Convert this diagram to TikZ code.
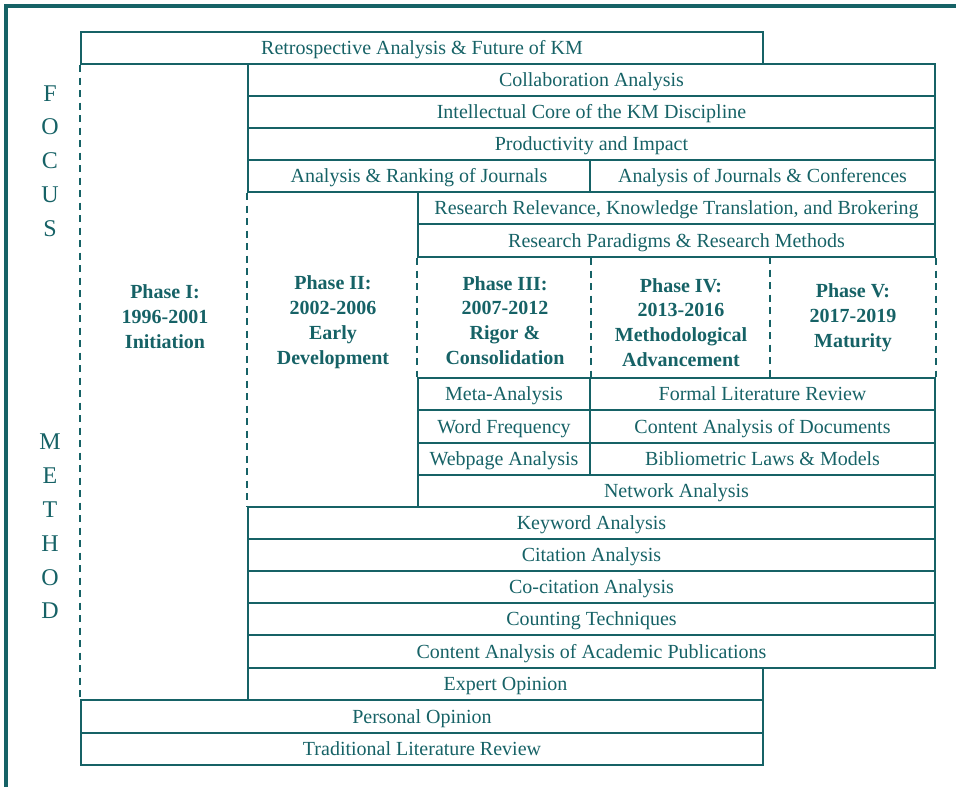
\documentclass[tikz,border=0pt]{standalone}
\usepackage{fontspec}
\setmainfont{Liberation Serif}
\definecolor{km}{RGB}{22,98,102}
\tikzset{
  cell/.style={draw=km, line width=2.2pt, inner sep=0pt, text=km,
    font=\fontsize{20}{24}\selectfont, text height=14.5pt, text depth=1pt},
  phase/.style={text=km, align=center, inner sep=0pt,
    font=\fontsize{20}{24.8}\selectfont\bfseries},
  axis/.style={text=km, align=center, inner sep=0pt,
    font=\fontsize{24}{33.8}\selectfont},
  divider/.style={draw=km, line width=2.2pt, dash pattern=on 7pt off 5.5pt},
  frame/.style={draw=km, line width=3.6pt}
}
\newcommand\cellnode[6]{%
  \node[cell, minimum width={(#4-#2)*1pt}, minimum height={(#5-#3)*1pt}]
    (#1) at ({(#2+#4)/2},{(#3+#5)/2}) {#6};}
\begin{document}
\begin{tikzpicture}[x=1pt,y=-1pt]
\useasboundingbox (0,0) rectangle (956,787);
% outer frame
\coordinate (fA) at (6.2,787);
\coordinate (fB) at (6.2,6.2);
\coordinate (fC) at (956,6.2);
\draw[frame] (fA) -- (fB) -- (fC);
% axis labels
\node[axis] (focus) at (50,161) {F\\O\\C\\U\\S};
\node[axis] (method) at (50,526.5) {M\\E\\T\\H\\O\\D};
% focus rows
\cellnode{retro}{81}{32}{763}{64}{Retrospective Analysis \& Future of KM}
\cellnode{collab}{248}{64}{935}{96}{Collaboration Analysis}
\cellnode{core}{248}{96}{935}{128}{Intellectual Core of the KM Discipline}
\cellnode{prod}{248}{128}{935}{160}{Productivity and Impact}
\cellnode{ranking}{248}{160}{590}{192}{Analysis \& Ranking of Journals}
\cellnode{conf}{590}{160}{935}{192}{Analysis of Journals \& Conferences}
\cellnode{relev}{418}{192}{935}{224}{Research Relevance, Knowledge Translation, and Brokering}
\cellnode{paradigms}{418}{224}{935}{257}{Research Paradigms \& Research Methods}
% method rows
\cellnode{meta}{418}{378}{590}{410}{Meta-Analysis}
\cellnode{formal}{590}{378}{935}{410}{Formal Literature Review}
\cellnode{wordf}{418}{410}{590}{443}{Word Frequency}
\cellnode{contdoc}{590}{410}{935}{443}{Content Analysis of Documents}
\cellnode{webpage}{418}{443}{590}{475}{Webpage Analysis}
\cellnode{biblio}{590}{443}{935}{475}{Bibliometric Laws \& Models}
\cellnode{network}{418}{475}{935}{507}{Network Analysis}
\cellnode{keyword}{248}{507}{935}{539}{Keyword Analysis}
\cellnode{citation}{248}{539}{935}{571}{Citation Analysis}
\cellnode{cocit}{248}{571}{935}{603}{Co-citation Analysis}
\cellnode{counting}{248}{603}{935}{635}{Counting Techniques}
\cellnode{contacad}{248}{635}{935}{668}{Content Analysis of Academic Publications}
\cellnode{expert}{248}{668}{763}{700}{Expert Opinion}
\cellnode{personal}{81}{700}{763}{733}{Personal Opinion}
\cellnode{tradit}{81}{733}{763}{765}{Traditional Literature Review}
% phase dividers
\coordinate (p45top) at (770,257);
\coordinate (p45bot) at (770,378);
\draw[divider] (retro.south west) -- (personal.north west);
\draw[divider] (ranking.south west) -- (keyword.north west);
\draw[divider] (paradigms.south west) -- (meta.north west);
\draw[divider] (meta.north east |- paradigms.south) -- (meta.north east);
\draw[divider] (p45top) -- (p45bot);
\draw[divider] (paradigms.south east) -- (formal.north east);
% phase labels
\node[phase] (ph1) at (165,316.5) {Phase I:\\1996-2001\\Initiation};
\node[phase] (ph2) at (333,322) {Phase II:\\2002-2006\\Early\\Development};
\node[phase] (ph3) at (505,320.5) {Phase III:\\2007-2012\\Rigor \&\\Consolidation};
\node[phase] (ph4) at (681,322.5) {Phase IV:\\2013-2016\\Methodological\\Advancement};
\node[phase] (ph5) at (853,318) {Phase V:\\2017-2019\\Maturity};
\end{tikzpicture}
\end{document}
